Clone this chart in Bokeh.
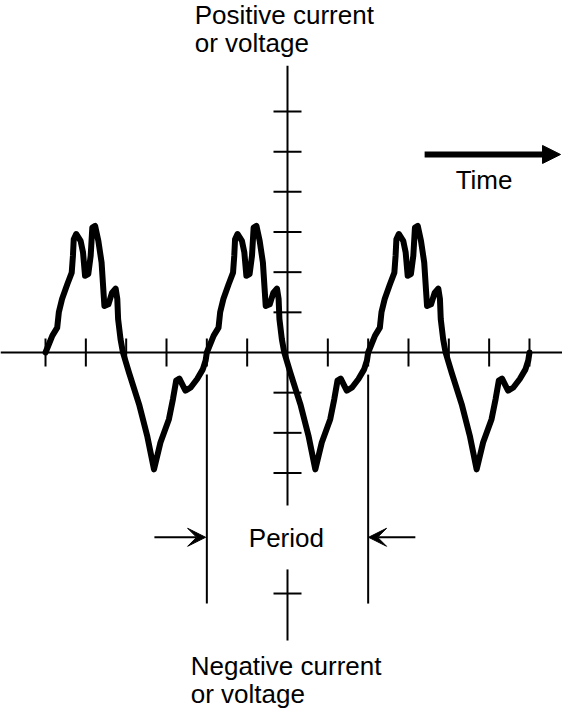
import numpy as np
from bokeh.plotting import figure
from bokeh.models import Range1d, Arrow, VeeHead, NormalHead, Span
from bokeh.core.properties import value
from bokeh.embed import file_html
from bokeh.resources import INLINE

# ---- data (units = tick spacings) ----
# one period of the waveform: time within cycle, amplitude
cycle_t = [0.00, 0.17, 0.29, 0.33, 0.41, 0.54, 0.65, 0.68, 0.70, 0.76, 0.87, 0.93,
           0.98, 1.06, 1.12, 1.16, 1.23, 1.31, 1.39, 1.46, 1.56, 1.65, 1.74, 1.78,
           1.80, 1.86, 1.92, 2.07, 2.32, 2.52, 2.69, 2.75, 2.85, 3.06, 3.16, 3.24,
           3.32, 3.41, 3.47, 3.60, 3.76, 3.90, 3.97, 4.00]
cycle_v = [0.00, 0.42, 0.62, 1.00, 1.33, 1.70, 1.99, 2.41, 2.82, 2.95, 2.78, 2.49,
           1.91, 1.95, 2.41, 3.11, 3.15, 2.78, 2.24, 1.16, 1.20, 1.49, 1.59, 1.33,
           0.83, 0.33, 0.00, -0.50, -1.29, -2.07, -2.91, -2.66, -2.24, -1.66, -1.16, -0.70,
           -0.65, -0.83, -0.95, -0.87, -0.66, -0.42, -0.20, 0.00]
cycle_starts = [-6, -2, 2]

x_ticks = [-6, -5, -4, -3, -2, -1, 1, 2, 3, 4, 5, 6]
y_ticks = [6, 5, 4, 3, 2, 1, -1, -2, -3, -6]

vaxis_y0 = [7.14, -5.40]
vaxis_y1 = [-3.81, -7.17]

period_x = [-2, 2]
period_y0 = [-0.55, -0.55]
period_y1 = [-6.25, -6.25]
period_arrow_from = [-3.30, 3.17]
period_arrow_to = [-2.03, 2.01]
period_arrow_y = -4.60

time_arrow_x = [3.40, 6.77]
time_arrow_y = 4.93

labels = ["Positive current", "or voltage", "Time", "Period",
          "Negative current", "or voltage"]
label_x = [-2.30, -2.30, 4.17, -0.96, -2.40, -2.40]
label_y = [8.40, 7.70, 4.29, -4.62, -7.80, -8.50]

# ---- figure ----
XS, YS = 40.33, 40.17
p = figure(width=562, height=710,
           x_range=Range1d((8 - 295) / XS, (570 - 295) / XS),
           y_range=Range1d((360 - 718) / YS, (360 - 8) / YS),
           output_backend="svg", toolbar_location=None,
           x_axis_location=None, y_axis_location=None,
           min_border=0, outline_line_color=None,
           background_fill_color="white", border_fill_color="white")
p.grid.visible = False

# axes
p.add_layout(Span(location=0, dimension="width", line_color="black", line_width=2))
p.segment(x0=[0, 0], y0=vaxis_y0, x1=[0, 0], y1=vaxis_y1, line_color="black", line_width=2)

tx = 14 / XS
ty = 14 / YS
p.segment(x0=x_ticks, y0=[-ty] * len(x_ticks), x1=x_ticks, y1=[ty] * len(x_ticks),
          line_color="black", line_width=2)
p.segment(x0=[-tx] * len(y_ticks), y0=y_ticks, x1=[tx] * len(y_ticks), y1=y_ticks,
          line_color="black", line_width=2)

# period marker lines
p.segment(x0=period_x, y0=period_y0, x1=period_x, y1=period_y1,
          line_color="black", line_width=2)
for xs, xe in zip(period_arrow_from, period_arrow_to):
    p.add_layout(Arrow(end=VeeHead(size=18, fill_color="black", line_color="black", line_width=1),
                       x_start=xs, y_start=period_arrow_y, x_end=xe, y_end=period_arrow_y,
                       line_color="black", line_width=2))

# time arrow
p.add_layout(Arrow(end=NormalHead(size=18, fill_color="black", line_color="black", line_width=1),
                   x_start=time_arrow_x[0], y_start=time_arrow_y,
                   x_end=time_arrow_x[1], y_end=time_arrow_y,
                   line_color="black", line_width=6))

# waveform
wx, wy = [], []
for k, s in enumerate(cycle_starts):
    ts = np.array(cycle_t) + s
    vs = np.array(cycle_v)
    if k > 0:
        ts, vs = ts[1:], vs[1:]
    wx.extend(ts.tolist())
    wy.extend(vs.tolist())
p.line(wx, wy, line_color="black", line_width=6, line_join="round", line_cap="round")

# labels
p.text(x=label_x, y=label_y, text=labels, text_font=value("Liberation Sans"),
       text_font_size="26px", text_align="left", text_baseline="alphabetic",
       text_color="black")

open("out.html", "w").write(file_html(p, INLINE))
